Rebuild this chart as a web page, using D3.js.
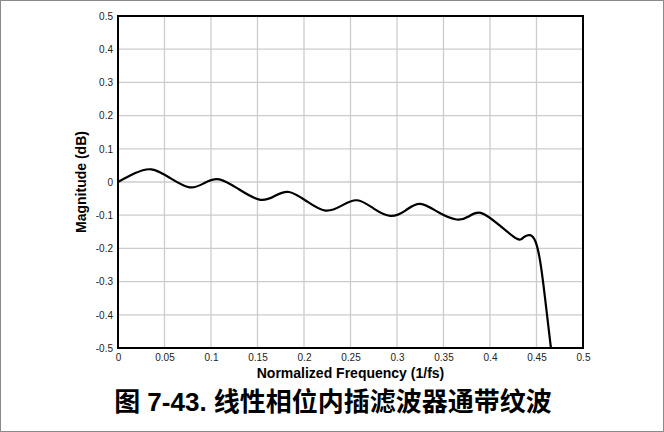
<!DOCTYPE html>
<html>
<head>
<meta charset="utf-8">
<script src="https://cdn.jsdelivr.net/npm/d3@7"></script>
<style>
  html, body { margin: 0; padding: 0; background: #fff; }
  svg { display: block; }
</style>
</head>
<body>
<svg id="chart" width="664" height="432"></svg>
<script>
// ---- data ----
const freq = [0, 0.018, 0.036, 0.056, 0.077, 0.093, 0.109, 0.130, 0.152, 0.168, 0.184,
  0.204, 0.223, 0.240, 0.257, 0.275, 0.293, 0.309, 0.325, 0.345, 0.364, 0.377, 0.390,
  0.410, 0.429, 0.436, 0.443, 0.449, 0.454, 0.459, 0.4655];
const magnitude = [0, 0.026, 0.038, 0.012, -0.016, -0.003, 0.008, -0.022, -0.053, -0.043, -0.030,
  -0.060, -0.086, -0.072, -0.055, -0.080, -0.102, -0.086, -0.066, -0.092, -0.113, -0.104, -0.093,
  -0.130, -0.171, -0.167, -0.160, -0.180, -0.240, -0.345, -0.5];
const xTicks = [0, 0.05, 0.1, 0.15, 0.2, 0.25, 0.3, 0.35, 0.4, 0.45, 0.5];
const xTickLabels = ["0", "0.05", "0.1", "0.15", "0.2", "0.25", "0.3", "0.35", "0.4", "0.45", "0.5"];
const yTicks = [0.5, 0.4, 0.3, 0.2, 0.1, 0, -0.1, -0.2, -0.3, -0.4, -0.5];
const yTickLabels = ["0.5", "0.4", "0.3", "0.2", "0.1", "0", "-0.1", "-0.2", "-0.3", "-0.4", "-0.5"];
const xTitle = "Normalized Frequency (1/fs)";
const yTitle = "Magnitude (dB)";
const caption = "图 7-43. 线性相位内插滤波器通带纹波";

// ---- layout ----
const svg = d3.select("#chart");
const L = 118, R = 583, T = 16, B = 348;
const x = d3.scaleLinear().domain([0, 0.5]).range([L, R]);
const y = d3.scaleLinear().domain([-0.5, 0.5]).range([B, T]);

// outer frame
svg.append("rect").attr("x", 0.5).attr("y", 0.5).attr("width", 663).attr("height", 431)
  .attr("fill", "none").attr("stroke", "#8a8a8a").attr("stroke-width", 1);

// grid
const grid = svg.append("g").attr("stroke", "#cccccc").attr("stroke-width", 1.3);
grid.selectAll("line.gx").data(xTicks).join("line")
  .attr("x1", d => x(d)).attr("x2", d => x(d)).attr("y1", T).attr("y2", B);
grid.selectAll("line.gy").data(yTicks).join("line")
  .attr("y1", d => y(d)).attr("y2", d => y(d)).attr("x1", L).attr("x2", R);

// axes (labels)
const xAxis = d3.axisBottom(x).tickValues(xTicks).tickSize(0).tickPadding(6)
  .tickFormat((d, i) => xTickLabels[i]);
const gx = svg.append("g").attr("transform", `translate(0,${B})`).call(xAxis);
const yAxis = d3.axisLeft(y).tickValues(yTicks).tickSize(0).tickPadding(5)
  .tickFormat((d, i) => yTickLabels[i]);
const gy = svg.append("g").attr("transform", `translate(${L},0)`).call(yAxis);
[gx, gy].forEach(g => {
  g.select(".domain").remove();
  g.selectAll("text").attr("font-family", "Liberation Sans, Arial, sans-serif")
    .attr("font-size", 10).attr("fill", "#222");
});

// curve
const data = freq.map((f, i) => [f, magnitude[i]]);
svg.append("path").datum(data)
  .attr("fill", "none").attr("stroke", "#000").attr("stroke-width", 2.2)
  .attr("stroke-linejoin", "round")
  .attr("d", d3.line().x(d => x(d[0])).y(d => y(d[1])).curve(d3.curveNatural));

// plot border
svg.append("rect").attr("x", L).attr("y", T).attr("width", R - L).attr("height", B - T)
  .attr("fill", "none").attr("stroke", "#000").attr("stroke-width", 2);

// titles
svg.append("text").attr("x", (L + R) / 2).attr("y", 378).attr("text-anchor", "middle")
  .attr("font-family", "Liberation Sans, Arial, sans-serif").attr("font-weight", "bold")
  .attr("font-size", 14).attr("fill", "#000").text(xTitle);
svg.append("text").attr("transform", `translate(86,${(T + B) / 2}) rotate(-90)`)
  .attr("text-anchor", "middle")
  .attr("font-family", "Liberation Sans, Arial, sans-serif").attr("font-weight", "bold")
  .attr("font-size", 14).attr("fill", "#000").text(yTitle);
svg.append("text").attr("x", 333).attr("y", 411).attr("text-anchor", "middle")
  .attr("font-family", "Liberation Sans, Arial, 'Noto Sans CJK SC', sans-serif").attr("font-weight", "bold")
  .attr("font-size", 26).attr("fill", "#000").text(caption);
</script>
</body>
</html>
